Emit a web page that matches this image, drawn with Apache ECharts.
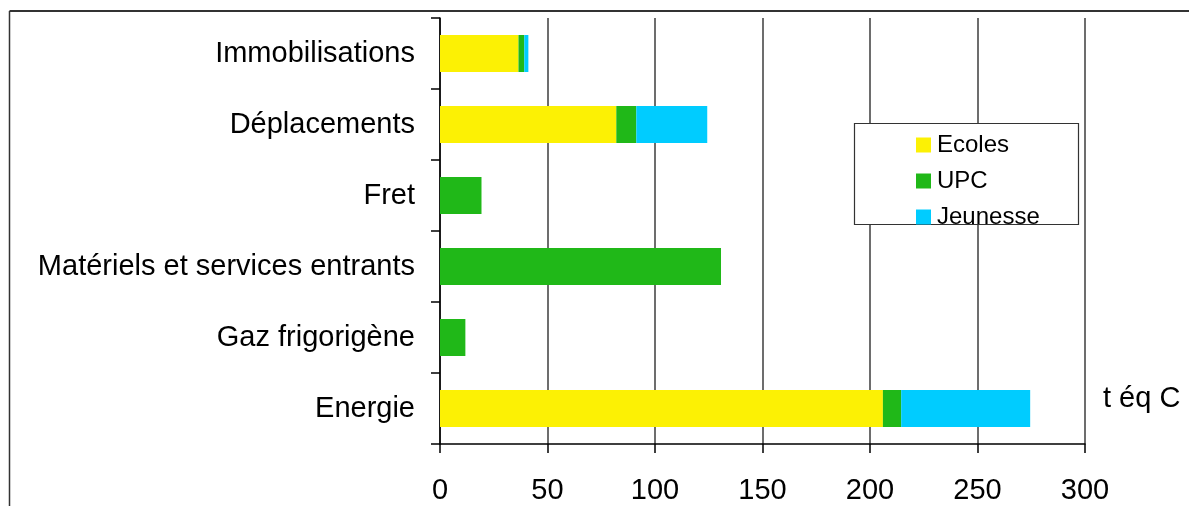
<!DOCTYPE html>
<html>
<head>
<meta charset="utf-8">
<script src="https://cdn.jsdelivr.net/npm/echarts@6/dist/echarts.min.js"></script>
<style>
  html, body { margin: 0; padding: 0; background: #ffffff; }
  #chart { width: 1189px; height: 506px; }
</style>
</head>
<body>
<div id="chart"></div>
<script>
// Emissions par poste (t éq C), réparties entre Ecoles, UPC et Jeunesse
const categories = ['Immobilisations', 'Déplacements', 'Fret', 'Matériels et services entrants', 'Gaz frigorigène', 'Energie'];
const ecoles   = [36.5, 82, 0, 0, 0, 206];
const upc      = [2.7, 9.3, 19.3, 130.7, 11.8, 8.5];
const jeunesse = [1.9, 33, 0, 0, 0, 60];
const seriesNames = ['Ecoles', 'UPC', 'Jeunesse'];
const xTicks = { min: 0, max: 300, interval: 50 };

const FONT = '"Liberation Sans", Arial, sans-serif';
const colors = ['#FCF104', '#20B818', '#00CCFF'];

const chart = echarts.init(document.getElementById('chart'), null, { renderer: 'canvas' });

function barSeries(name, data, color) {
  return {
    name: name,
    type: 'bar',
    stack: 'total',
    data: data,
    barWidth: 37,
    itemStyle: { color: color },
    emphasis: { disabled: true },
    z: 3
  };
}

chart.setOption({
  animation: false,
  backgroundColor: '#ffffff',
  textStyle: { fontFamily: FONT },
  grid: { left: 440, right: 104, top: 18, bottom: 62, containLabel: false },
  xAxis: {
    type: 'value',
    min: xTicks.min,
    max: xTicks.max,
    interval: xTicks.interval,
    axisLine: { show: true, lineStyle: { color: '#000000', width: 1.5 } },
    axisTick: { show: true, length: 9, lineStyle: { color: '#000000', width: 1.5 } },
    axisLabel: { color: '#000000', fontSize: 29, fontFamily: FONT, margin: 32 },
    splitLine: { show: true, lineStyle: { color: '#3c3c3c', width: 1.5 } }
  },
  yAxis: {
    type: 'category',
    inverse: true,
    data: categories,
    axisLine: { show: true, lineStyle: { color: '#000000', width: 1.5 } },
    axisTick: { show: true, length: 9, alignWithLabel: false, lineStyle: { color: '#000000', width: 1.5 } },
    axisLabel: { color: '#000000', fontSize: 29, fontFamily: FONT, margin: 25, padding: [3, 0, 0, 0] },
    splitLine: { show: false }
  },
  legend: {
    show: true,
    data: seriesNames,
    orient: 'vertical',
    left: 916,
    top: 133,
    padding: 0,
    itemWidth: 15,
    itemHeight: 15,
    itemGap: 12,
    icon: 'rect',
    selectedMode: false,
    textStyle: { color: '#000000', fontSize: 24, fontFamily: FONT, padding: [0, 0, 0, 1] }
  },
  series: [
    barSeries(seriesNames[0], ecoles, colors[0]),
    barSeries(seriesNames[1], upc, colors[1]),
    barSeries(seriesNames[2], jeunesse, colors[2])
  ],
  graphic: [
    // legend frame
    {
      type: 'rect',
      z: 1,
      shape: { x: 854.5, y: 123.5, width: 224, height: 101 },
      style: { fill: '#ffffff', stroke: '#333333', lineWidth: 1.2 }
    },
    // outer frame (top and left edges)
    {
      type: 'line',
      shape: { x1: 9.5, y1: 11, x2: 1189, y2: 11 },
      style: { stroke: '#333333', lineWidth: 2 }
    },
    {
      type: 'line',
      shape: { x1: 9.5, y1: 11, x2: 9.5, y2: 506 },
      style: { stroke: '#333333', lineWidth: 1.5 }
    },
    // unit label
    {
      type: 'text',
      x: 1103,
      y: 399,
      style: {
        text: 't éq C',
        font: '29px ' + FONT,
        fill: '#000000',
        textVerticalAlign: 'middle'
      }
    }
  ]
});
</script>
</body>
</html>
